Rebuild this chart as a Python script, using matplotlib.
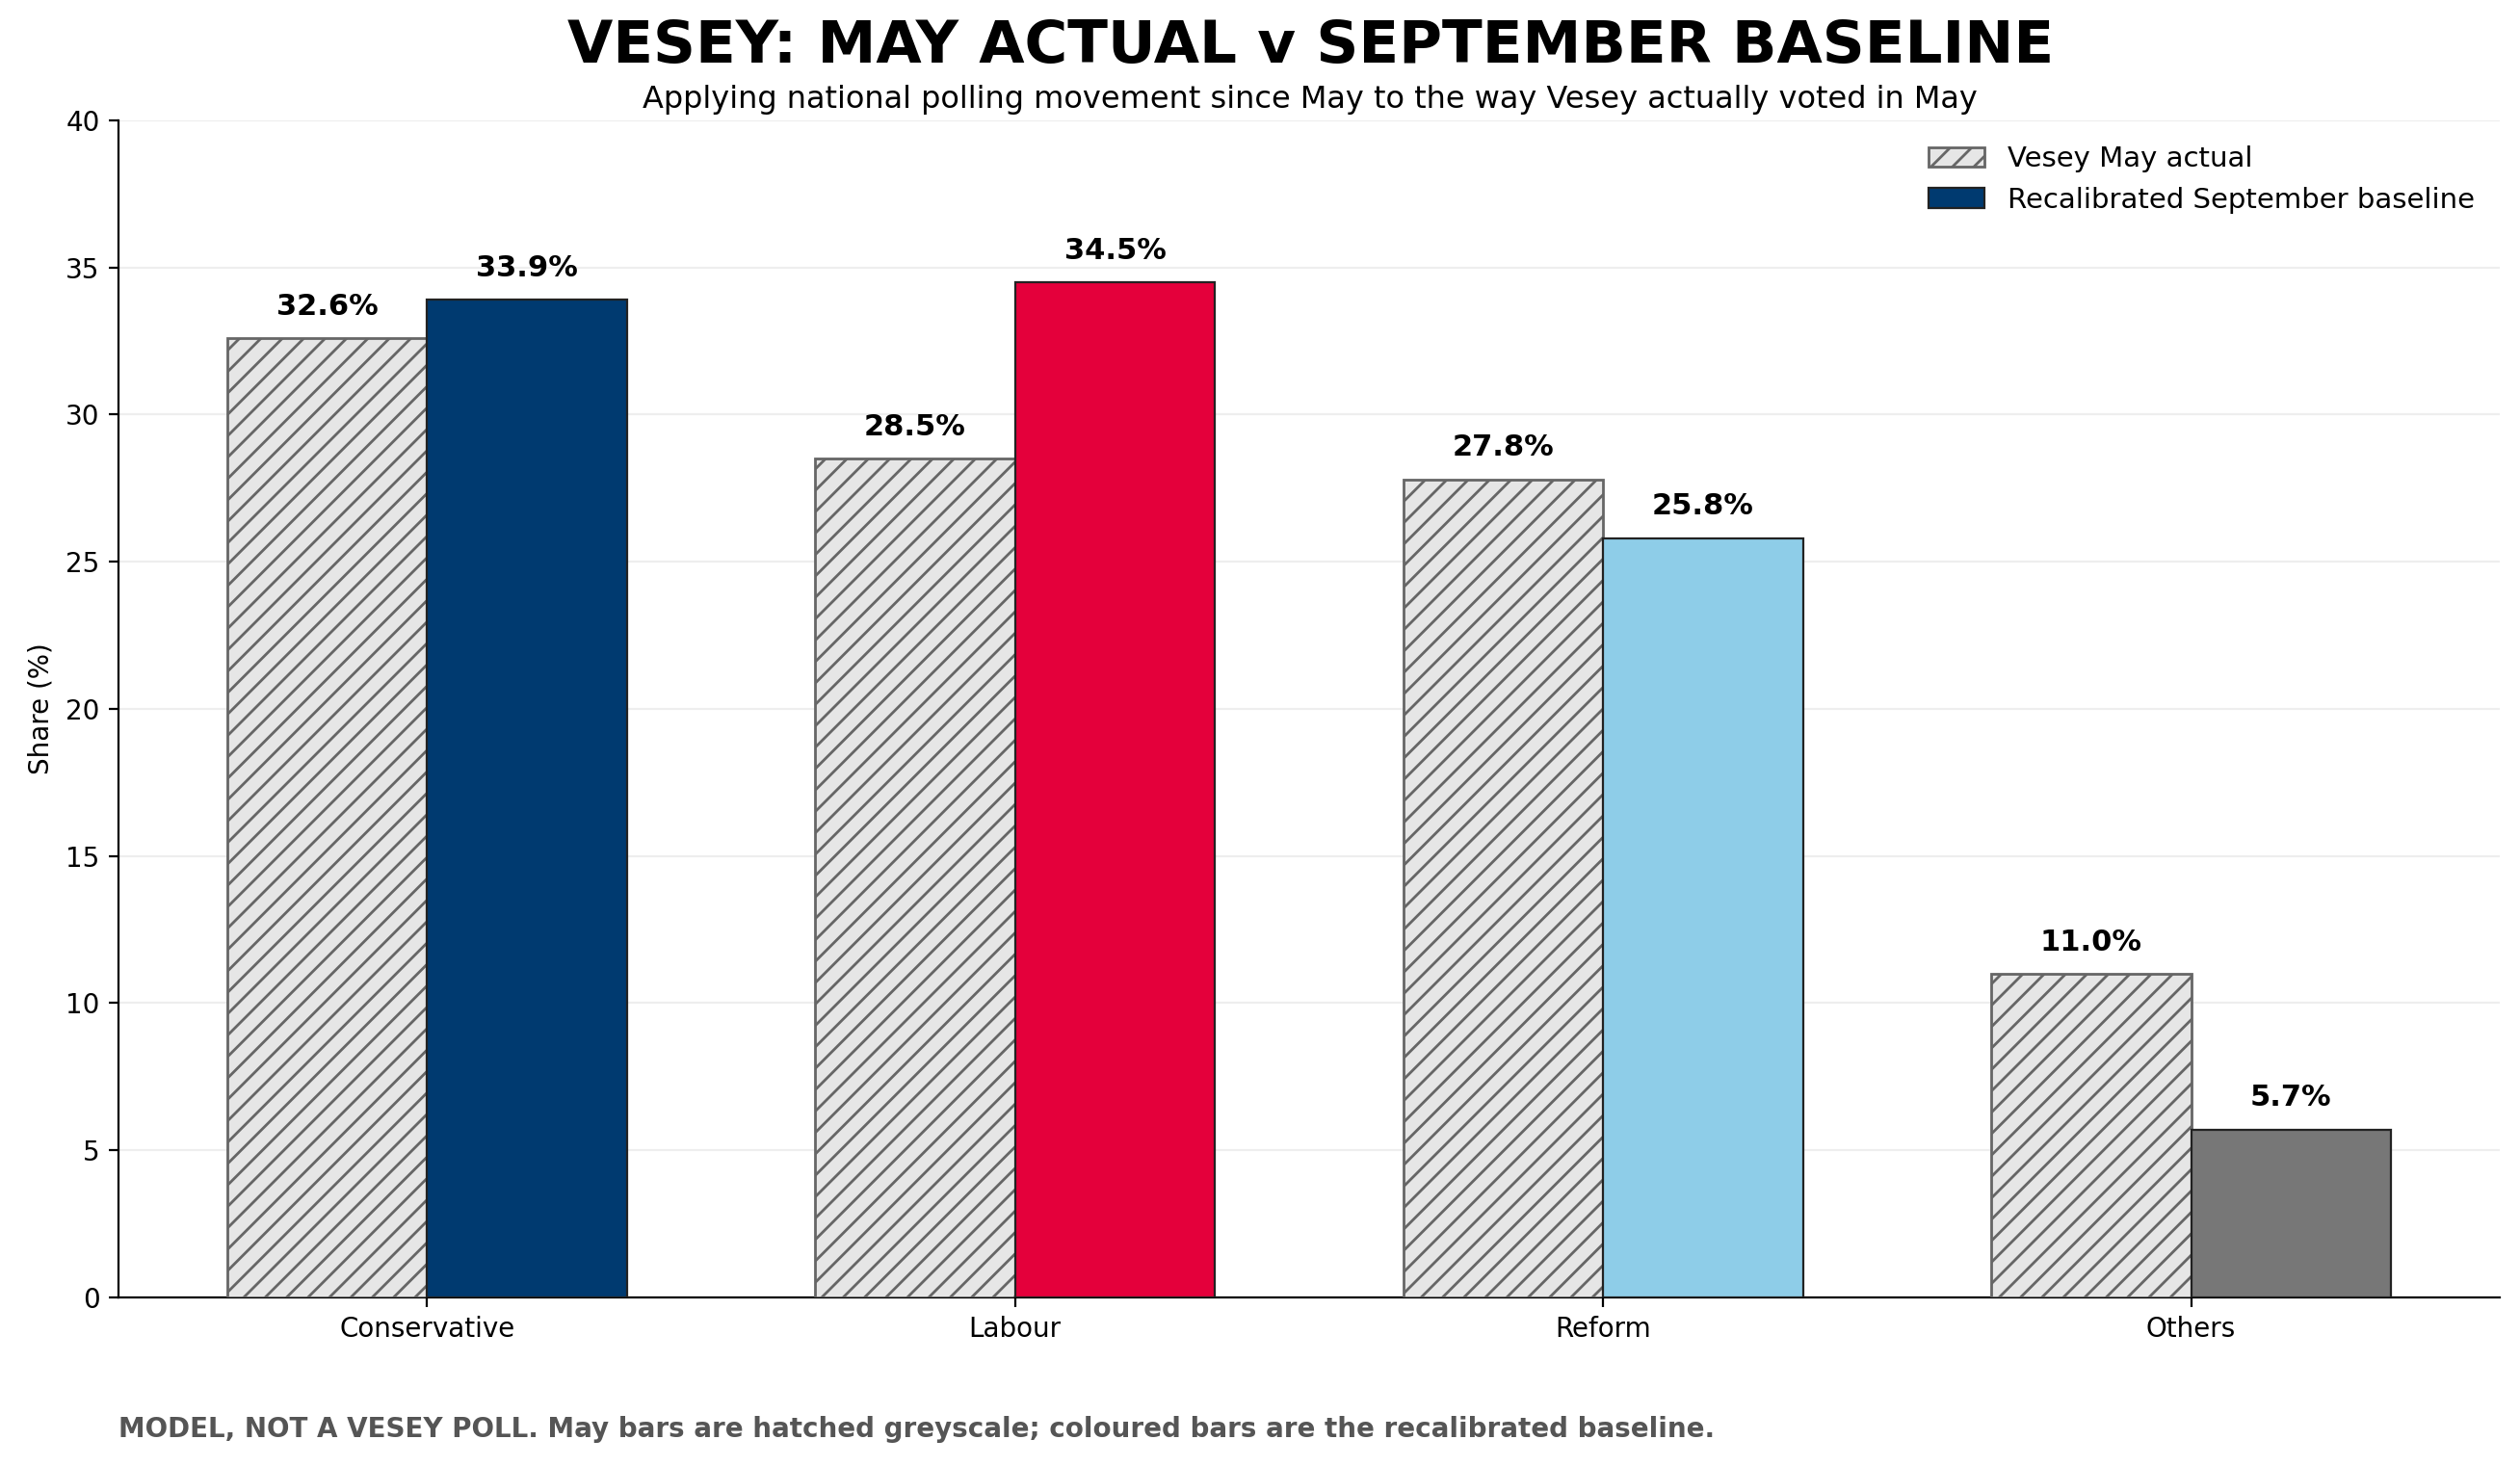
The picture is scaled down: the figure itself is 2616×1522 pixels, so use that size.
import numpy as np
import matplotlib
matplotlib.use("Agg")
import matplotlib.pyplot as plt

parties = ["Conservative", "Labour", "Reform", "Others"]
may_actual = [32.6, 28.5, 27.8, 11.0]
sept_baseline = [33.9, 34.5, 25.8, 5.7]
party_colours = ["#003a70", "#e4003b", "#8ecde8", "#777777"]

fig = plt.figure(figsize=(13.08, 7.61), dpi=200)
ax = fig.add_axes([0.047, 0.115, 0.945, 0.803])

x = np.arange(len(parties))
w = 0.34
b1 = ax.bar(x - w / 2, may_actual, w, color="#e6e6e6", edgecolor="#666666",
            hatch="///", linewidth=1.0, label="Vesey May actual", zorder=3)
b2 = ax.bar(x + w / 2, sept_baseline, w, color=party_colours, edgecolor="#222222",
            linewidth=0.8, label="Recalibrated September baseline", zorder=3)
plt.rcParams["hatch.color"] = "#666666"

for bars, vals in ((b1, may_actual), (b2, sept_baseline)):
    for bar, v in zip(bars, vals):
        ax.text(bar.get_x() + bar.get_width() / 2, v + 0.6, f"{v:.1f}%",
                ha="center", va="bottom", fontsize=11, fontweight="bold")

ax.set_xticks(x)
ax.set_xticklabels(parties, fontsize=10)
ax.set_xlim(-0.525, 3.525)
ax.set_ylim(0, 40)
ax.set_yticks(range(0, 41, 5))
ax.tick_params(axis="y", labelsize=10)
ax.set_ylabel("Share (%)", fontsize=10)
ax.grid(axis="y", color="#eeeeee", linewidth=0.8, zorder=0)
ax.spines[["top", "right"]].set_visible(False)

leg = ax.legend(loc="upper right", frameon=False, fontsize=10.5)

fig.text(0.52, 0.968, "VESEY: MAY ACTUAL v SEPTEMBER BASELINE", ha="center",
         va="center", fontsize=22, fontweight="bold")
fig.text(0.52, 0.932, "Applying national polling movement since May to the way Vesey actually voted in May",
         ha="center", va="center", fontsize=11.5)
fig.text(0.047, 0.025, "MODEL, NOT A VESEY POLL. May bars are hatched greyscale; coloured bars are the recalibrated baseline.",
         ha="left", va="center", fontsize=10, fontweight="bold", color="#555555")

fig.savefig("out.png", dpi=200)
